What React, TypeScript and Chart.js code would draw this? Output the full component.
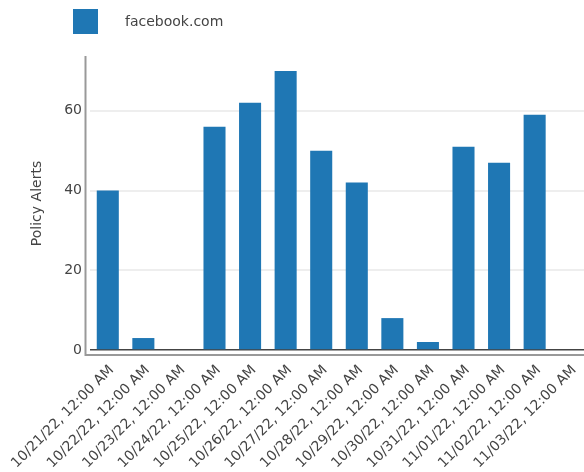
import React, { useEffect, useRef } from "react";
import { Chart, registerables } from "chart.js";

Chart.register(...registerables);

const categories = [
  "10/21/22, 12:00 AM",
  "10/22/22, 12:00 AM",
  "10/23/22, 12:00 AM",
  "10/24/22, 12:00 AM",
  "10/25/22, 12:00 AM",
  "10/26/22, 12:00 AM",
  "10/27/22, 12:00 AM",
  "10/28/22, 12:00 AM",
  "10/29/22, 12:00 AM",
  "10/30/22, 12:00 AM",
  "10/31/22, 12:00 AM",
  "11/01/22, 12:00 AM",
  "11/02/22, 12:00 AM",
  "11/03/22, 12:00 AM",
];
const seriesName = "facebook.com";
const values = [40, 3, 0, 56, 62, 70, 50, 42, 8, 2, 51, 47, 59, 0];
const yTicks = [0, 20, 40, 60];
const yMax = 73.5;
const yTitle = "Policy Alerts";

const BAR_COLOR = "#1f77b4";
const TEXT_COLOR = "#444444";
const FONT = "'DejaVu Sans', sans-serif";

const axisPlugin = {
  id: "offsetAxes",
  afterDraw(chart: any) {
    const { ctx, chartArea } = chart;
    ctx.save();
    ctx.strokeStyle = "#999999";
    ctx.lineWidth = 2;
    ctx.beginPath();
    ctx.moveTo(chartArea.left - 4.5, chartArea.top - 1);
    ctx.lineTo(chartArea.left - 4.5, chartArea.bottom + 6);
    ctx.moveTo(chartArea.left - 5.5, chartArea.bottom + 5);
    ctx.lineTo(chartArea.right, chartArea.bottom + 5);
    ctx.stroke();
    ctx.restore();
  },
};

const legendPlugin = {
  id: "topLegend",
  afterDraw(chart: any) {
    const { ctx } = chart;
    const ds = chart.data.datasets[0];
    ctx.save();
    ctx.fillStyle = ds.backgroundColor;
    ctx.fillRect(73, 9, 25, 25);
    ctx.fillStyle = TEXT_COLOR;
    ctx.font = `14px ${FONT}`;
    ctx.textAlign = "left";
    ctx.textBaseline = "middle";
    ctx.fillText(ds.label, 125, 22);
    ctx.restore();
  },
};

export default function App() {
  const canvasRef = useRef<HTMLCanvasElement | null>(null);

  useEffect(() => {
    if (!canvasRef.current) return;
    Chart.defaults.font.family = FONT;
    Chart.defaults.color = TEXT_COLOR;
    const chart = new Chart(canvasRef.current, {
      type: "bar",
      data: {
        labels: categories,
        datasets: [
          {
            label: seriesName,
            data: values,
            backgroundColor: BAR_COLOR,
            borderWidth: 0,
            categoryPercentage: 0.8,
            barPercentage: 0.775,
          },
        ],
      },
      options: {
        responsive: false,
        animation: false,
        layout: { padding: { top: 57, left: 0, right: 0, bottom: 0 } },
        plugins: {
          legend: { display: false },
          tooltip: { enabled: false },
        },
        scales: {
          x: {
            grid: { display: false, drawTicks: false },
            border: { display: false },
            ticks: {
              autoSkip: false,
              minRotation: 45,
              maxRotation: 45,
              padding: 12,
              labelOffset: 4,
              color: TEXT_COLOR,
              font: { size: 14, family: FONT },
            },
            afterFit(scale: any) {
              scale.height = 122;
              scale.paddingLeft = 0;
              scale.paddingRight = 0;
              scale.paddingTop = 0;
              scale.paddingBottom = 0;
            },
          },
          y: {
            min: 0,
            max: yMax,
            afterBuildTicks(scale: any) {
              scale.ticks = yTicks.map((v) => ({ value: v }));
            },
            grid: {
              drawTicks: false,
              color: (c: any) => (c.tick && c.tick.value === 0 ? "#444444" : "#eeeeee"),
              lineWidth: (c: any) => (c.tick && c.tick.value === 0 ? 1.5 : 2),
            },
            border: { display: false },
            ticks: {
              padding: 8,
              color: TEXT_COLOR,
              font: { size: 14, family: FONT },
            },
            title: {
              display: true,
              text: yTitle,
              color: TEXT_COLOR,
              font: { size: 14, family: FONT },
              padding: { top: 28.6, bottom: 0 },
            },
            afterFit(scale: any) {
              scale.width = 90;
              scale.paddingTop = 0;
              scale.paddingBottom = 0;
            },
          },
        },
      },
      plugins: [axisPlugin, legendPlugin],
    });
    return () => chart.destroy();
  }, []);

  return (
    <div
      style={{
        position: "fixed",
        left: 0,
        top: 0,
        width: 584,
        height: 472,
        overflow: "hidden",
        background: "#ffffff",
      }}
    >
      <canvas ref={canvasRef} width={588} height={472} style={{ display: "block" }} />
    </div>
  );
}
